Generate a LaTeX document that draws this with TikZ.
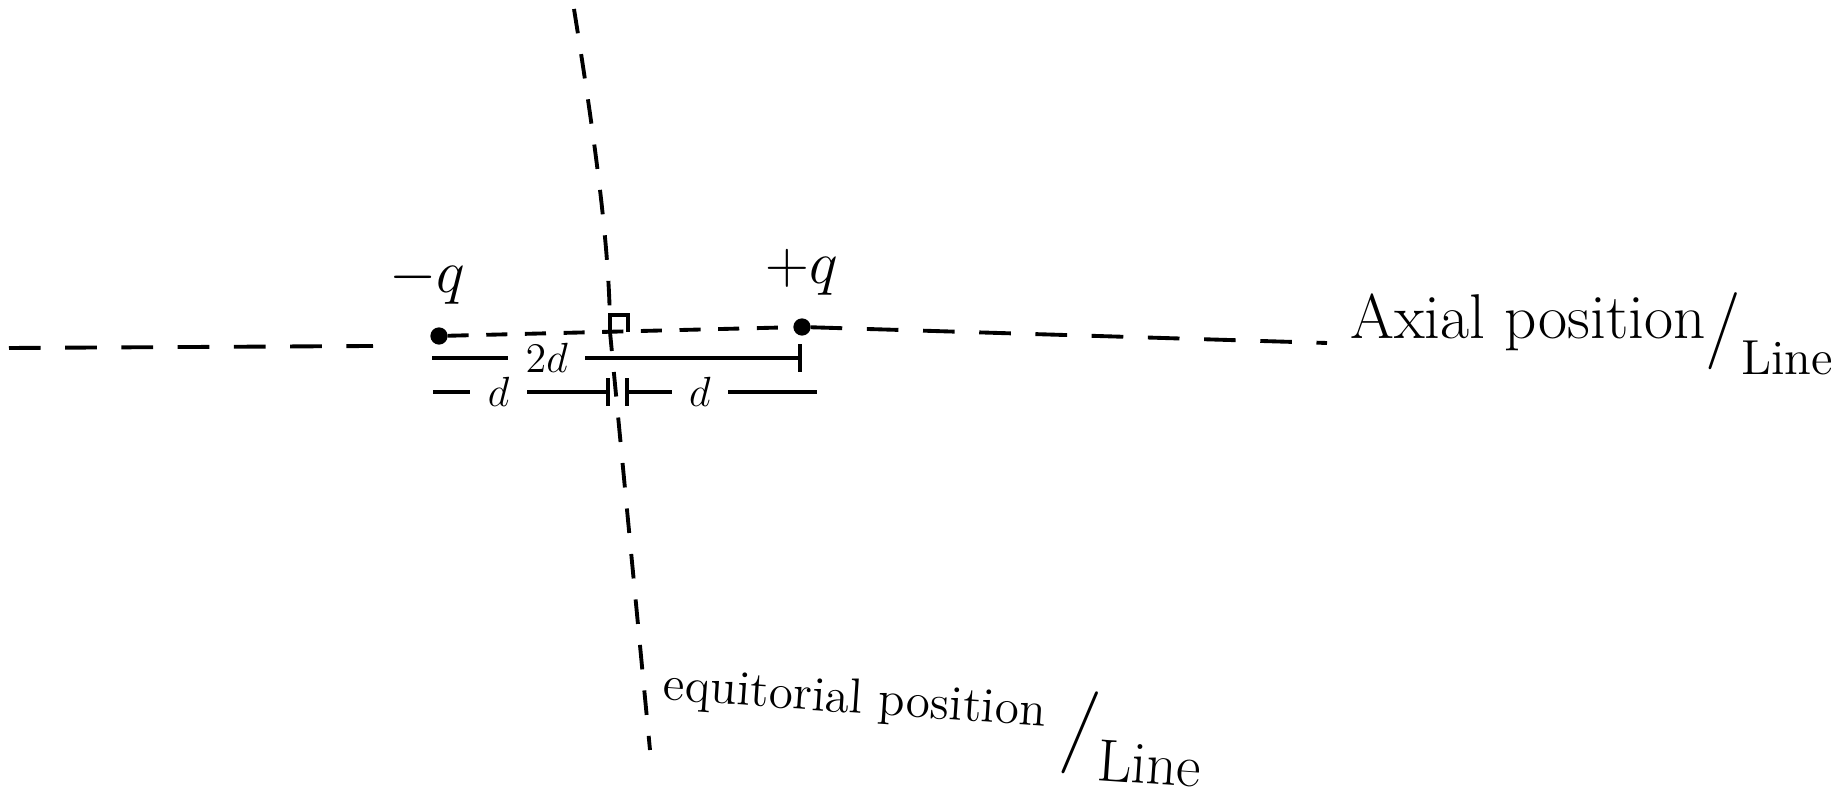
\documentclass[tikz,border=0pt]{standalone}
\usetikzlibrary{positioning,calc,arrows}
\tikzset{chg/.style={draw,circle,fill=black,minimum size=4.5pt,inner sep=0pt}  }
\tikzset{axline/.style={line width=1.1pt,dash pattern=on 9pt off 7pt}  }
\tikzset{dimline/.style={line width=1pt}  }
\tikzset{hand/.style={font=\fontsize{18}{22}\selectfont}  }
\tikzset{chlabel/.style={font=\fontsize{17}{20}\selectfont}  }
\tikzset{dimlabel/.style={fill=white,inner xsep=5pt,inner ysep=0pt,font=\fontsize{13}{15}\selectfont}  }

\begin{document}
\begin{tikzpicture}
	\useasboundingbox (0,0) rectangle (18.36,8);
		\coordinate[chg,label={[chlabel,label distance=3pt,xshift=-0.12cm]above:$-q$}] (nq) at (4.39,4.64);
			\coordinate[chg,label={[chlabel,label distance=3pt]above:$+q$}] (pq) at (8.02,4.73);
			\coordinate (O) at (6.10,4.68);
			\coordinate (axl) at (0.09,4.52);
			\coordinate (axm) at (3.73,4.54);
			\coordinate (axr) at (13.27,4.57);
			\coordinate (eqtop) at (5.74,7.91);
			\coordinate (eqbot) at (6.50,0.50);

			% axial line
			\draw[axline] (axl) -- (axm);
			\draw[axline,dash pattern=on 6pt off 5pt] (nq) -- (pq);
			\draw[axline] (pq) -- (axr);
			% equatorial line
			\draw[axline,dash pattern=on 7pt off 6pt] (eqtop) .. controls (5.95,6.6) and (6.10,5.5) .. (O) -- (eqbot);
			\draw[line width=1pt] (O) -- ++(0,0.17) -- ++(0.18,0) -- ++(0,-0.17);

			% separations
			\draw[dimline,-|] (4.33,4.08) -- node[pos=0.37,dimlabel] {$d$} (6.10,4.08);
			\draw[dimline,|-] (6.25,4.08) -- node[pos=0.39,dimlabel] {$d$} (8.17,4.08);
			\draw[dimline,-|] (4.32,4.42) -- node[pos=0.31,dimlabel] {$2d$} (8.02,4.42);

				\node[hand,anchor=west] (axtxt) at (13.38,4.66) {Axial position\raisebox{-0.12cm}{\fontsize{22}{26}\selectfont /}\raisebox{-0.36cm}{\fontsize{14}{17}\selectfont Line}};
				\node[hand,anchor=west,rotate=-4,font=\fontsize{14}{17}\selectfont] (eqtxt) at (6.50,0.95) {equitorial position \raisebox{-0.25cm}{\fontsize{24}{28}\selectfont /}\raisebox{-0.5cm}{\fontsize{17}{20}\selectfont Line}};
	\end{tikzpicture}
\end{document}
